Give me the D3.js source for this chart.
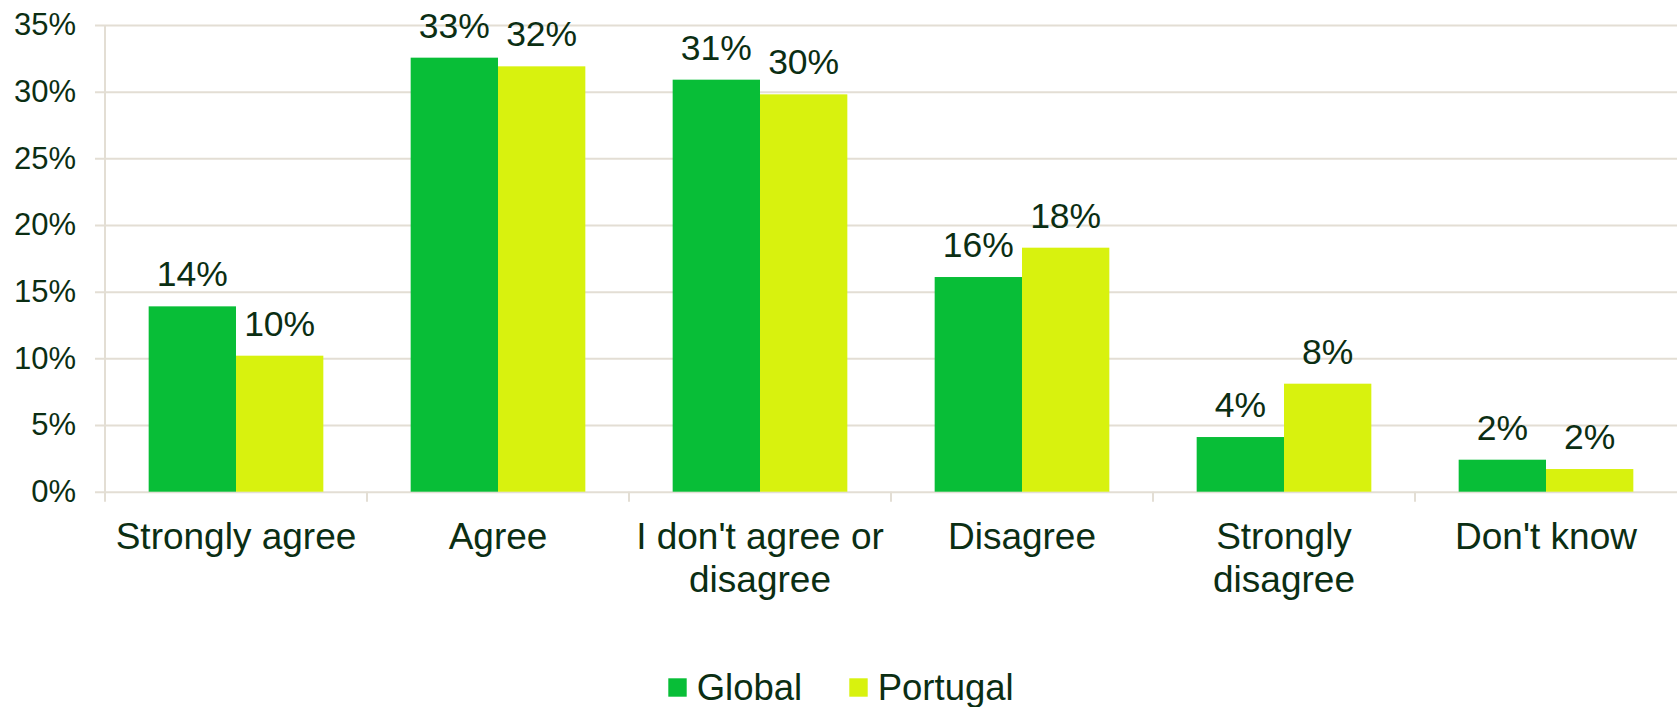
<!DOCTYPE html>
<html>
<head>
<meta charset="utf-8">
<script src="https://cdn.jsdelivr.net/npm/d3@7"></script>
<style>
    body { margin: 0; background: #fff; }
    text { font-family: "Liberation Sans", Arial, sans-serif; fill: #0b2e13; }
</style>
</head>
<body>
<svg id="chart" width="1677" height="707"></svg>
<script>
//Data
var categories = [["Strongly agree"], ["Agree"], ["I don't agree or", "disagree"], ["Disagree"], ["Strongly", "disagree"], ["Don't know"]];
var series = ["Global", "Portugal"];
var global = [13.9, 32.55, 30.9, 16.1, 4.1, 2.4];
var portugal = [10.2, 31.9, 29.8, 18.3, 8.1, 1.7];
var yticks = [0, 5, 10, 15, 20, 25, 30, 35];
var colors = ["#08be37", "#d8f20e"];

var values = [global, portugal];
var grid_color = "#e3ded4";

var svg = d3.select("#chart");
var x = d3.scaleBand().domain(d3.range(categories.length)).range([105, 1677]);
var xs = d3.scaleBand().domain(series).range([0, x.bandwidth()]).paddingOuter(0.5);
var y = d3.scaleLinear().domain([0, 35]).range([491.7, 25]);

//Grid + y axis
var yaxis = svg.append("g").attr("transform", "translate(105,0)")
    .call(d3.axisLeft(y).tickValues(yticks).tickSize(10).tickPadding(19).tickFormat(function (d) { return d + "%" }));
yaxis.select(".domain").remove();
yaxis.selectAll(".tick line").attr("x2", 1677 - 105).attr("x1", -10).attr("stroke", grid_color).attr("stroke-width", 2);
yaxis.selectAll(".tick text").attr("font-size", 31).attr("fill", "#0b2e13");

svg.append("line").attr("x1", 105).attr("x2", 105).attr("y1", y(35)).attr("y2", y(0) + 10)
    .attr("stroke", grid_color).attr("stroke-width", 2);

//x axis ticks at category boundaries
svg.selectAll(".xtick").data(d3.range(1, categories.length)).enter()
    .append("line").attr("class", "xtick")
    .attr("x1", function (d) { return x(d) }).attr("x2", function (d) { return x(d) })
    .attr("y1", y(0)).attr("y2", y(0) + 10)
    .attr("stroke", grid_color).attr("stroke-width", 2);

//Bars
var groups = svg.selectAll(".grp").data(categories).enter()
    .append("g").attr("class", "grp")
    .attr("transform", function (d, i) { return `translate(${x(i)},0)` });

series.forEach(function (s, k) {
    groups.append("rect")
        .attr("x", xs(s))
        .attr("width", xs.bandwidth())
        .attr("y", function (d, i) { return y(values[k][i]) })
        .attr("height", function (d, i) { return y(0) - y(values[k][i]) })
        .attr("fill", colors[k]);
    groups.append("text")
        .attr("x", xs(s) + xs.bandwidth() / 2)
        .attr("y", function (d, i) { return y(values[k][i]) - 20 })
        .attr("text-anchor", "middle")
        .attr("font-size", 35.5)
        .text(function (d, i) { return Math.round(values[k][i]) + "%" });
});

//Category labels
groups.append("text")
    .attr("x", x.bandwidth() / 2)
    .attr("y", 549)
    .attr("text-anchor", "middle")
    .attr("font-size", 37)
    .selectAll("tspan").data(function (d) { return d }).enter()
    .append("tspan")
    .attr("x", x.bandwidth() / 2)
    .attr("dy", function (d, i) { return i ? 42.5 : 0 })
    .text(function (d) { return d });

//Legend
var legend_x = [668.3, 849.3];
var legend = svg.selectAll(".legend").data(series).enter()
    .append("g").attr("class", "legend")
    .attr("transform", function (d, i) { return `translate(${legend_x[i]},678.3)` });
legend.append("rect").attr("width", 18.4).attr("height", 18.4)
    .attr("fill", function (d, i) { return colors[i] });
legend.append("text").attr("x", 28.4).attr("y", 21.7).attr("font-size", 36.5)
    .text(function (d) { return d });
</script>
</body>
</html>
